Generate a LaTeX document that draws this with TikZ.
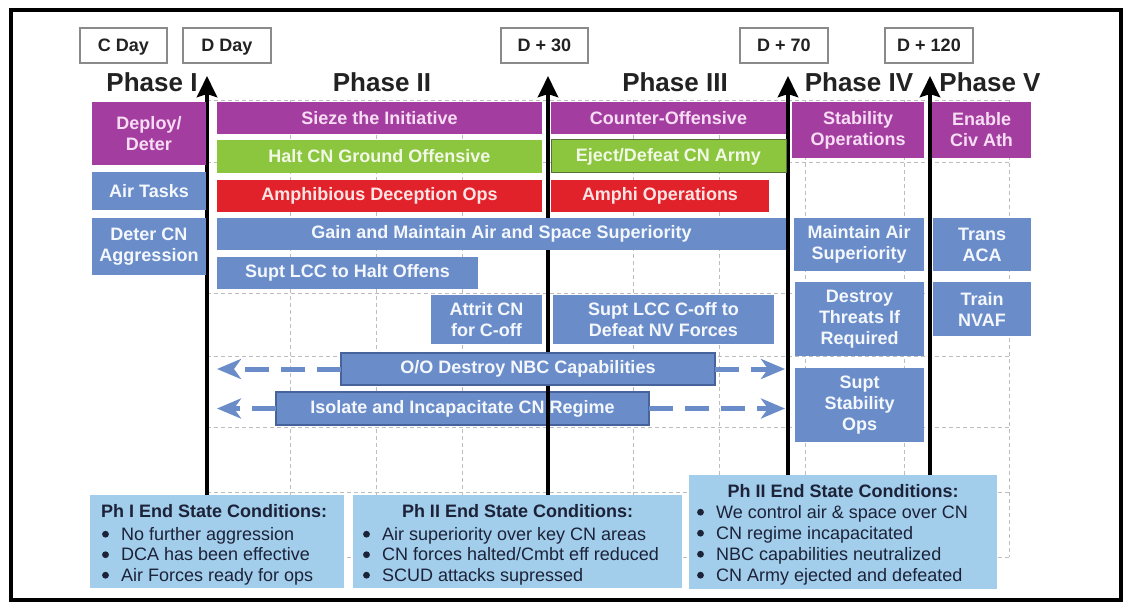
\documentclass[tikz,border=0pt]{standalone}
\usepackage{fontspec}
\setmainfont{Liberation Sans}
\usetikzlibrary{arrows.meta}

\definecolor{opPurple}{HTML}{A43DA0}
\definecolor{onPurple}{HTML}{F6DDF3}
\definecolor{opGreen}{HTML}{8CC63F}
\definecolor{onGreen}{HTML}{F1F8E6}
\definecolor{opRed}{HTML}{E2222A}
\definecolor{onRed}{HTML}{FCE4E4}
\definecolor{opBlue}{HTML}{6A8DC9}
\definecolor{onBlue}{HTML}{F4F7FC}
\definecolor{opBlueEdge}{HTML}{46639B}
\definecolor{greenEdge}{HTML}{55703A}
\definecolor{endBlue}{HTML}{A2CDEB}
\definecolor{endInk}{HTML}{1C2238}
\definecolor{gridGray}{HTML}{BDBDBD}
\definecolor{dateEdge}{HTML}{8A8A8A}
\definecolor{inkDark}{HTML}{222222}

% box given by its top-left and bottom-right corners
\newcommand{\opbox}[7]{%
  \node[#1, minimum width={(#5-#3)*1pt}, minimum height={(#6-#4)*1pt}] (#2) at (#3,#4) {#7};}
% room left for the bullet dot drawn in front of each condition
\newcommand{\condindent}{\hspace*{20pt}}

\tikzset{
  boxbase/.style={rectangle, inner sep=0pt, outer sep=0pt, anchor=north west},
  task/.style={boxbase, align=center, font=\bfseries\fontsize{18}{21}\selectfont},
  purpletask/.style={task, fill=opPurple, text=onPurple},
  greentask/.style={task, fill=opGreen, text=onGreen},
  redtask/.style={task, fill=opRed, text=onRed},
  bluetask/.style={task, fill=opBlue, text=onBlue},
  datebox/.style={boxbase, font=\bfseries\fontsize{18}{21}\selectfont,
    text height=13pt, text depth=0pt,
    fill=white, draw=dateEdge, line width=1.2pt, text=inkDark},
  endbox/.style={boxbase, fill=endBlue},
  endtitle/.style={font=\bfseries\fontsize{18}{21}\selectfont, text=endInk, inner sep=0pt},
  endline/.style={font=\fontsize{18}{21}\selectfont, text=endInk, inner sep=0pt, anchor=base west},
  phaselabel/.style={font=\bfseries\fontsize{26}{30}\selectfont, text=inkDark, inner sep=0pt, anchor=base},
  gridline/.style={draw=gridGray, line width=0.8pt, dash pattern=on 4pt off 3pt},
  phasearrow/.style={draw=black, line width=4.5pt,
    -{Stealth[length=21pt, width=20pt, inset=3pt]}},
  sidearrow/.style={draw=opBlue, line width=5pt, dash pattern=on 24pt off 12pt,
    -{Stealth[length=24pt, width=20pt, inset=7pt]}},
}

\begin{document}
\begin{tikzpicture}[x=1pt, y=-1pt]
\useasboundingbox (0,0) rectangle (1127,604);
\fill[white] (0,0) rectangle (1127,604);

% timeline grid
\foreach \gx in {290,376,462,633,719,805,904,1009}
  \draw[gridline] (\gx,100) -- (\gx,557);
\foreach \gy in {100,162,293,356,427,492,557}
  \draw[gridline] (207,\gy) -- (1009,\gy);

% milestone dates
\opbox{datebox}{cday}{80}{28}{167}{63}{C Day}
\opbox{datebox}{dday}{183}{28}{271}{63}{D Day}
\opbox{datebox}{d30}{501}{28}{588}{63}{D + 30}
\opbox{datebox}{d70}{740}{28}{828}{63}{D + 70}
\opbox{datebox}{d120}{885}{28}{973}{63}{D + 120}

% phase headings
\node[phaselabel] (ph1) at (152,92) {Phase I};
\node[phaselabel] (ph2) at (382,92) {Phase II};
\node[phaselabel] (ph3) at (675,92) {Phase III};
\node[phaselabel] (ph4) at (859,92) {Phase IV};
\node[phaselabel] (ph5) at (990,92) {Phase V};

% end state boxes
\opbox{endbox}{endA}{90}{495}{344}{588}{}
\opbox{endbox}{endB}{353}{495}{682}{588}{}
\opbox{endbox}{endC}{689}{475}{997}{589}{}

% this bar lies over the D+30 line
\opbox{bluetask, draw=opBlueEdge, line width=1.2pt}{isolate}{276}{392}{649}{425}{Isolate and Incapacitate CN Regime}

% phase boundaries
\coordinate (tip1) at (207,76);
\coordinate (tip2) at (548,76);
\coordinate (tip3) at (788,76);
\coordinate (tip4) at (930,76);
\draw[phasearrow] (endA.north -| tip1) -- (tip1);
\draw[phasearrow] (endB.north -| tip2) -- (tip2);
\draw[phasearrow] (endC.north -| tip3) -- (tip3);
\draw[phasearrow] (endC.north -| tip4) -- (tip4);

% operations
\opbox{purpletask}{deploy}{92}{102}{206}{165}{Deploy/\\Deter}
\opbox{purpletask}{sieze}{217}{102}{542}{134}{Sieze the Initiative}
\opbox{purpletask}{counter}{551}{102}{786}{134}{Counter-Offensive}
\opbox{purpletask}{stab}{792}{102}{924}{158}{Stability\\Operations}
\opbox{purpletask}{enable}{932}{102}{1031}{158}{Enable\\Civ Ath}

\opbox{greentask}{halt}{217}{140}{542}{173}{Halt CN Ground Offensive}
\opbox{greentask, draw=greenEdge, line width=1pt}{eject}{551}{140}{786}{173}{Eject/Defeat CN Army}

\opbox{bluetask}{airtasks}{92}{172}{206}{210}{Air Tasks}
\opbox{redtask}{amphdec}{217}{180}{542}{212}{Amphibious Deception Ops}
\opbox{redtask}{amphop}{551}{180}{769}{212}{Amphi Operations}

\opbox{bluetask}{deter}{92}{218}{206}{275}{Deter CN\\Aggression}
\opbox{bluetask}{gain}{217}{218}{786}{250}{Gain and Maintain Air and Space Superiority}
\opbox{bluetask}{maint}{794}{218}{924}{271}{Maintain Air\\Superiority}
\opbox{bluetask}{trans}{933}{218}{1031}{271}{Trans\\ACA}

\opbox{bluetask}{suptlcc}{217}{257}{478}{289}{Supt LCC to Halt Offens}
\opbox{bluetask}{attrit}{431}{295}{542}{344}{Attrit CN\\for C-off}
\opbox{bluetask}{suptcoff}{553}{295}{774}{344}{Supt LCC C-off to\\Defeat NV Forces}
\opbox{bluetask}{destroy}{795}{282}{924}{356}{Destroy\\Threats If\\Required}
\opbox{bluetask}{train}{933}{282}{1031}{336}{Train\\NVAF}

\opbox{bluetask, draw=opBlueEdge, line width=1.2pt}{oo}{341}{353}{715}{385}{O/O Destroy NBC Capabilities}
\opbox{bluetask}{suptstab}{795}{368}{924}{442}{Supt\\Stability\\Ops}

% duration extensions
\coordinate (ooL) at (217,369);
\coordinate (ooR) at (785,369);
\coordinate (isoL) at (217,408.5);
\coordinate (isoR) at (785,408.5);
\draw[sidearrow] (oo.west) -- (ooL);
\draw[sidearrow] (oo.east) -- (ooR);
\draw[sidearrow] (isolate.west) -- (isoL);
\draw[sidearrow] (isolate.east) -- (isoR);

% end state conditions
\node[endtitle, anchor=base west] (endAhead) at (101,517.5) {Ph I End State Conditions:};
\node[endline] (endA1) at (101,540) {\condindent No further aggression};
\node[endline] (endA2) at (101,560.5) {\condindent DCA has been effective};
\node[endline] (endA3) at (101,581) {\condindent Air Forces ready for ops};

\node[endtitle, anchor=base] (endBhead) at (517.5,517.5) {Ph II End State Conditions:};
\node[endline] (endB1) at (362,540) {\condindent Air superiority over key CN areas};
\node[endline] (endB2) at (362,560.5) {\condindent CN forces halted/Cmbt eff reduced};
\node[endline] (endB3) at (362,581) {\condindent SCUD attacks supressed};

\node[endtitle, anchor=base] (endChead) at (843,497) {Ph II End State Conditions:};
\node[endline] (endC1) at (696,518) {\condindent We control air \& space over CN};
\node[endline] (endC2) at (696,539) {\condindent CN regime incapacitated};
\node[endline] (endC3) at (696,560) {\condindent NBC capabilities neutralized};
\node[endline] (endC4) at (696,581) {\condindent CN Army ejected and defeated};

% bullet dots
\foreach \cond in {endA1,endA2,endA3,endB1,endB2,endB3,endC1,endC2,endC3,endC4}
  \fill[endInk] ([shift={(4.5pt,5.8pt)}]\cond.base west) circle (3.4pt);

% outer frame
\draw[line width=3.5pt] (11,10) rectangle (1121,600);
\end{tikzpicture}
\end{document}
